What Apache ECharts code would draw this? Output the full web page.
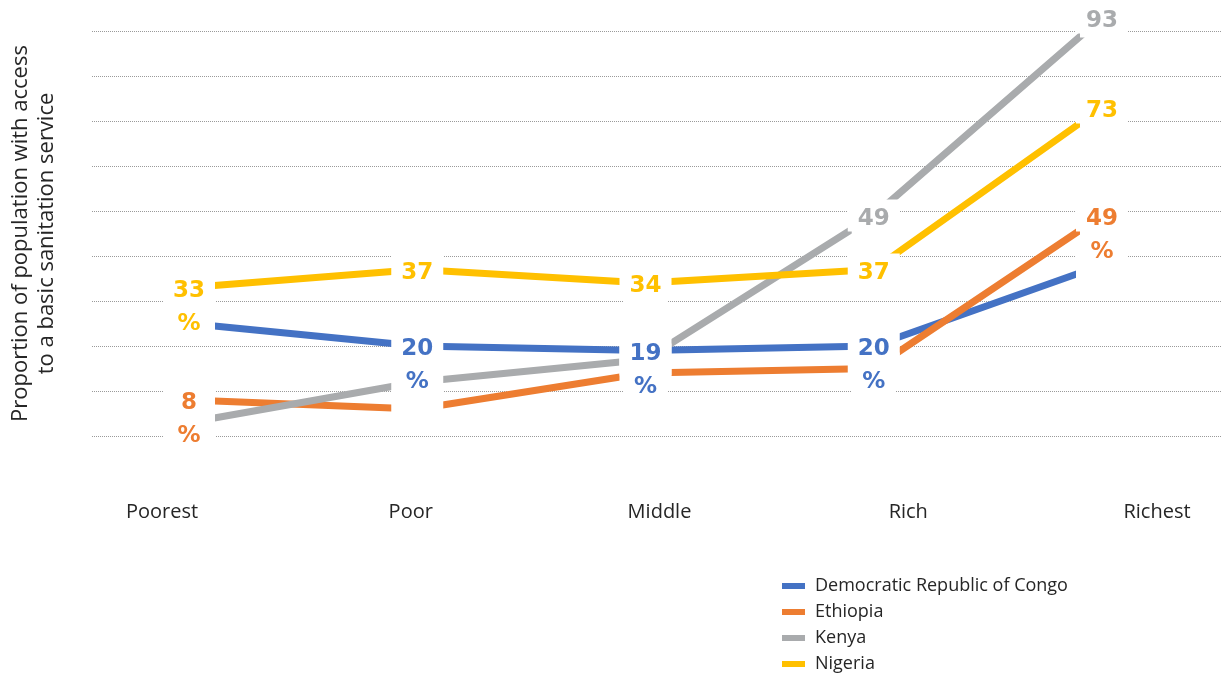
<!DOCTYPE html>
<html>
<head>
<meta charset="utf-8">
<script src="https://cdn.jsdelivr.net/npm/echarts@6/dist/echarts.min.js"></script>
<style>
  html, body { margin: 0; padding: 0; background: #fff; }
  #chart { width: 1225px; height: 675px; }
</style>
</head>
<body>
<div id="chart"></div>
<script>
// wealth quintiles
const categories = ['Poorest', 'Poor', 'Middle', 'Rich', 'Richest']
const countries = ['Democratic Republic of Congo', 'Ethiopia', 'Kenya', 'Nigeria']

// % of population with basic sanitation
const drcValues = [25, 20, 19, 20, 38]
const ethiopiaValues = [8, 6, 14, 15, 49]
const kenyaValues = [3, 12, 17, 49, 93]
const nigeriaValues = [33, 37, 34, 37, 73]

// data labels as they show in the original ('' = hidden)
const drcLabels = ['', '20\n%', '19\n%', '20\n%', '']
const ethiopiaLabels = ['8\n%', '', '', '', '49\n%']
const kenyaLabels = ['', '', '', '49', '93']
const nigeriaLabels = ['33\n%', '37', '34', '37', '73']

const colorList = ['#4472C4', '#ED7D31', '#A9ABAD', '#FFC000']

function lineSeries(name, values, color) {
  return {
    name: name,
    type: 'line',
    xAxisIndex: 0,
    yAxisIndex: 0,
    data: values,
    symbol: 'none',
    showSymbol: false,
    clip: false,
    silent: true,
    z: 2,
    itemStyle: { color: color },
    lineStyle: { width: 7, color: color, cap: 'butt' },
  }
}

// white boxes that cut the lines at every point, like the excel label boxes
function boxSeries(values) {
  return {
    type: 'scatter',
    xAxisIndex: 0,
    yAxisIndex: 0,
    data: values.map((v, i) => [categories[i], v]),
    symbol: 'rect',
    symbolSize: [52, 32],
    itemStyle: { color: '#fff', opacity: 1 },
    clip: false,
    silent: true,
    z: 3,
  }
}

function labelSeries(values, texts, color) {
  return {
    type: 'scatter',
    xAxisIndex: 0,
    yAxisIndex: 0,
    data: values.map((v, i) => {
      return { value: [categories[i], v], label: { show: texts[i] !== '' } }
    }),
    symbolSize: 1,
    itemStyle: { color: 'rgba(0,0,0,0)', opacity: 1 },
    clip: false,
    silent: true,
    z: 4,
    label: {
      show: true,
      position: 'inside',
      formatter: (p) => texts[p.dataIndex],
      color: color,
      opacity: 1,
      fontFamily: 'DejaVu Sans',
      fontWeight: 'bold',
      fontSize: 23,
      lineHeight: 33,
      verticalAlign: 'top',
      offset: [0, -13],
      backgroundColor: '#fff',
      padding: [0, 6],
    },
  }
}

const allValues = [drcValues, ethiopiaValues, kenyaValues, nigeriaValues]
const allLabels = [drcLabels, ethiopiaLabels, kenyaLabels, nigeriaLabels]

const series = []
countries.forEach((c, i) => series.push(lineSeries(c, allValues[i], colorList[i])))
allValues.forEach((v) => series.push(boxSeries(v)))
allValues.forEach((v, i) => series.push(labelSeries(v, allLabels[i], colorList[i])))

const option = {
  animation: false,
  grid: [
    // data
    { left: 189, right: 123, top: 31, bottom: 239 },
    // dotted gridlines
    { left: 91, right: 3, top: 31, bottom: 239 },
    // category labels
    { left: 162, right: 68, top: 31, bottom: 239 },
  ],
  xAxis: [
    { gridIndex: 0, type: 'category', data: categories, boundaryGap: false, show: false },
    { gridIndex: 1, type: 'category', data: categories, show: false },
    {
      gridIndex: 2,
      type: 'category',
      data: categories,
      boundaryGap: false,
      axisLine: { show: false },
      axisTick: { show: false },
      splitLine: { show: false },
      axisLabel: {
        interval: 0,
        margin: 66,
        color: '#262626',
        fontFamily: 'Open Sans',
        fontSize: 20,
      },
    },
  ],
  yAxis: [
    { gridIndex: 0, type: 'value', min: 0, max: 90, show: false },
    {
      gridIndex: 1,
      type: 'value',
      min: 0,
      max: 90,
      interval: 10,
      axisLine: { show: false },
      axisTick: { show: false },
      axisLabel: { show: false },
      splitLine: { lineStyle: { type: 'dotted', color: '#9a9a9a', width: 1 } },
      name: 'Proportion of population with access\nto a basic sanitation service',
      nameLocation: 'middle',
      nameRotate: 90,
      nameGap: 32,
      nameTextStyle: {
        color: '#262626',
        fontFamily: 'Open Sans',
        fontSize: 22,
        lineHeight: 26,
      },
    },
    { gridIndex: 2, type: 'value', min: 0, max: 90, show: false },
  ],
  legend: {
    data: countries,
    orient: 'vertical',
    left: 782,
    top: 577,
    padding: 0,
    icon: 'rect',
    itemWidth: 23,
    itemHeight: 6,
    itemGap: 8,
    textStyle: {
      color: '#262626',
      fontFamily: 'Open Sans',
      fontSize: 18,
      lineHeight: 18,
      padding: [0, 0, 0, 5],
    },
  },
  series: series,
}

const chartDom = echarts.init(document.getElementById('chart'))
chartDom.setOption(option)
</script>
</body>
</html>
